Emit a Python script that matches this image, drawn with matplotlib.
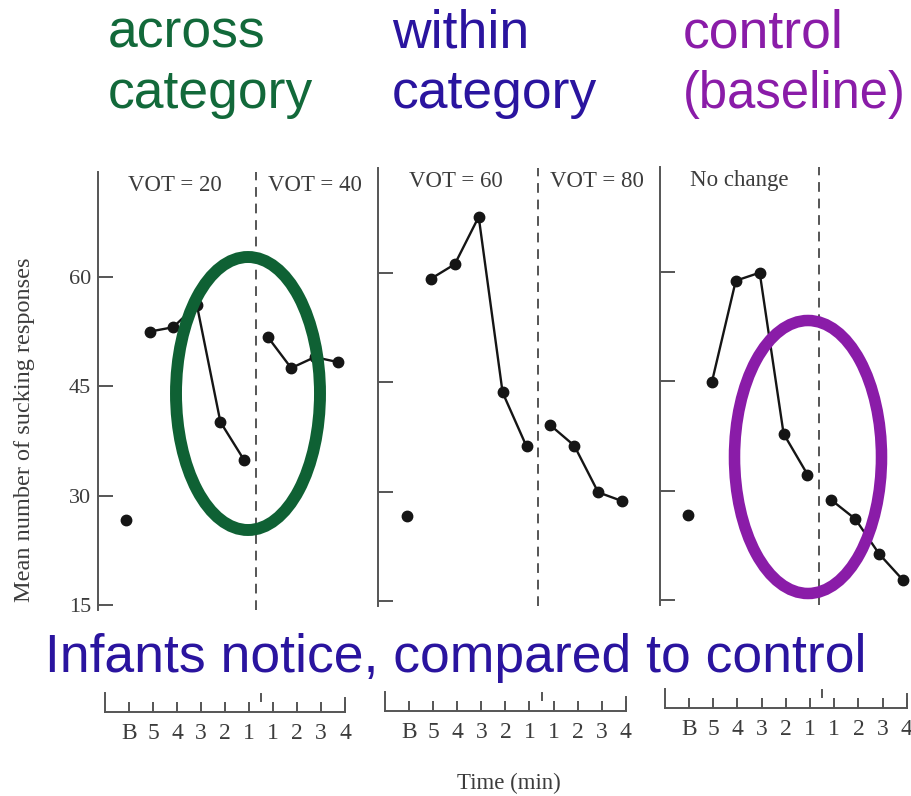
import matplotlib
matplotlib.use("Agg")
import matplotlib.pyplot as plt
from matplotlib.patches import Ellipse

W, H = 912, 796

# minutes: baseline, 5 pre-shift minutes, 4 post-shift minutes
minutes = ["B", "5", "4", "3", "2", "1", "1", "2", "3", "4"]
y_ticks = [15, 30, 45, 60]

baseline = [26.7, 26.6, 26.7]
across_pre = [52.5, 53.1, 56.2, 40.1, 34.9]
across_post = [51.8, 47.5, 49.0, 48.3]
within_pre = [59.2, 61.2, 67.7, 43.6, 36.2]
within_post = [39.1, 36.3, 29.9, 28.7]
control_pre = [44.9, 58.8, 59.9, 37.8, 32.2]
control_post = [28.7, 26.1, 21.3, 17.7]

pre_labels = ["VOT = 20", "VOT = 60", "No change"]
post_labels = ["VOT = 40", "VOT = 80", ""]

SCAN = "#3c3c3c"
INK = "#151515"
SERIF = "Liberation Serif"
SANS = "Liberation Sans"

fig = plt.figure(figsize=(W / 100, H / 100), dpi=100)


def px_axes(left, top, width, height):
    return fig.add_axes([left / W, 1 - (top + height) / H, width / W, height / H])


# panel geometry in pixels: left, top, width, x of "B", step per minute
panels = [
    (98, 172, 280, 126, 23.6),
    (378, 168, 280, 407, 23.9),
    (660, 167, 252, 688, 23.9),
]
# time axis geometry: left, baseline, width, x of "B", step
time_axes = [
    (105, 712, 240, 129, 24.0),
    (385, 711, 241, 409, 24.1),
    (665, 708, 242, 689, 24.2),
]

pre_series = [across_pre, within_pre, control_pre]
post_series = [across_post, within_post, control_post]

for i, (left, top, width, bx, step) in enumerate(panels):
    ax = px_axes(left, top, width, 438)
    x0 = -(bx - left) / step
    ax.set_xlim(x0, x0 + width / step)
    ax.set_ylim(14.3, 74.4)
    ax.patch.set_alpha(0)
    for s in ["top", "right", "bottom"]:
        ax.spines[s].set_visible(False)
    ax.spines["left"].set_color("#555555")
    ax.spines["left"].set_linewidth(1.4)
    ax.set_xticks([])
    ax.set_yticks(y_ticks)
    ax.tick_params(axis="y", direction="in", length=11, width=1.4, color="#555555",
                   labelsize=16, labelcolor=SCAN, pad=5)
    if i == 0:
        ax.set_yticklabels([str(t) for t in y_ticks], family=SERIF)
    else:
        ax.set_yticklabels([])

    ax.axvline(5.5, color="#555555", lw=1.4, ls=(0, (5, 3.5)))

    ax.plot([0], [baseline[i]], "o", color=INK, ms=7.5)
    ax.plot(range(1, 6), pre_series[i], "-o", color=INK, lw=1.7, ms=7.5)
    ax.plot(range(6, 10), post_series[i], "-o", color=INK, lw=1.7, ms=7.5)

    tr = ax.get_xaxis_transform()
    ax.text(x0 + (bx - left + 2) / step, 0.97, pre_labels[i], transform=tr,
            ha="left", va="center", fontsize=16.5, color=SCAN, family=SERIF)
    if post_labels[i]:
        ax.text(6.0, 0.97, post_labels[i], transform=tr,
                ha="left", va="center", fontsize=16.5, color=SCAN, family=SERIF)

for left, base, width, bx, step in time_axes:
    tax = px_axes(left, base - 19, width, 19)
    x0 = -(bx - left) / step
    tax.set_xlim(x0, x0 + width / step)
    tax.set_ylim(0, 1)
    tax.patch.set_alpha(0)
    tax.spines["top"].set_visible(False)
    for s in ["left", "right", "bottom"]:
        tax.spines[s].set_color("#555555")
        tax.spines[s].set_linewidth(1.4)
    tax.spines["right"].set_bounds(0, 0.75)
    tax.set_yticks([])
    tax.set_xticks(range(len(minutes)))
    tax.set_xticklabels(minutes, family=SERIF)
    tax.tick_params(axis="x", direction="in", length=7, width=1.4, color="#555555",
                    labelsize=17, labelcolor=SCAN, pad=8)
    tax.plot([5.5, 5.5], [0.6, 0.95], color="#555555", lw=1.4)

fig.text(25 / W, 1 - 430 / H, "Mean number of sucking responses", rotation=90,
         ha="center", va="center", fontsize=17.5, color=SCAN, family=SERIF)
fig.text(509 / W, 1 - 783 / H, "Time (min)", ha="center", va="center",
         fontsize=16.5, color=SCAN, family=SERIF)

# slide annotations on top
ov = fig.add_axes([0, 0, 1, 1], zorder=10)
ov.set_xlim(0, W)
ov.set_ylim(H, 0)
ov.axis("off")
ov.patch.set_alpha(0)

GREEN = "#12693a"
INDIGO = "#2a149f"
PURPLE = "#8a1ca8"
big = dict(fontsize=38.5, family=SANS, ha="left", va="baseline")
ov.text(108, 47, "across", color=GREEN, **big)
ov.text(108, 108, "category", color=GREEN, **big)
ov.text(392, 47, "within", color=INDIGO, **big)
ov.text(392, 108, "category", color=INDIGO, **big)
ov.text(683, 47, "control", color=PURPLE, **big)
ov.text(683, 108, "(baseline)", color=PURPLE, fontsize=36.5, family=SANS,
        ha="left", va="baseline")
ov.text(45, 672, "Infants notice, compared to control", color=INDIGO, **big)

ov.add_patch(Ellipse((248, 393.5), 144, 273, fill=False, ec="#0f6134", lw=8.6))
ov.add_patch(Ellipse((808, 457), 147, 273, fill=False, ec=PURPLE, lw=8.3))

fig.savefig("out.png", dpi=100)
